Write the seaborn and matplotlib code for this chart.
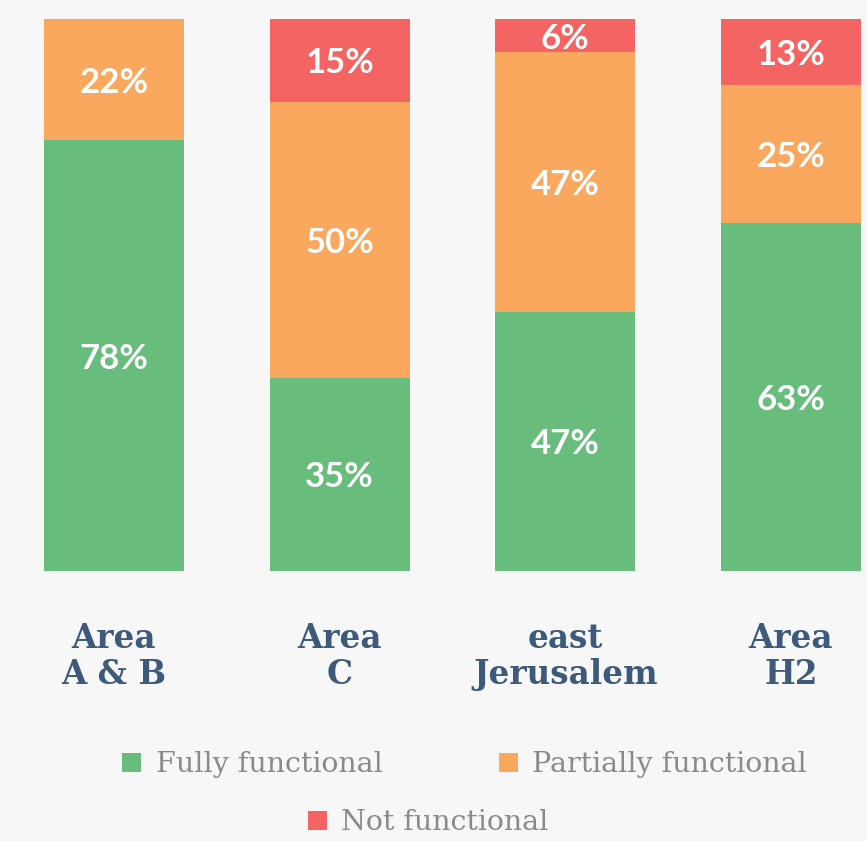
import matplotlib
matplotlib.use('Agg')
import matplotlib.pyplot as plt
from matplotlib.patches import Patch
import numpy as np
import pandas as pd
import seaborn as sns

areas = ['Area\nA & B', 'Area\nC', 'east\nJerusalem', 'Area\nH2']
fully = [78, 35, 47, 63]
partially = [22, 50, 47, 25]
not_func = [0, 15, 6, 13]
series_names = ['Fully functional', 'Partially functional', 'Not functional']

green = '#68bc7c'
orange = '#faa85e'
red = '#f36463'
bg = '#f7f7f7'

sns.set_theme(style='white')
plt.rcParams['font.family'] = ['DejaVu Sans']

fig = plt.figure(figsize=(8.67, 8.41), dpi=100, facecolor=bg)
ax = fig.add_axes([0, 270 / 841, 1, 552 / 841])
ax.set_facecolor(bg)

df = pd.DataFrame({'area': areas, 'fully': fully,
                   'partially': partially, 'not': not_func})
df['top2'] = df['fully'] + df['partially']
df['top3'] = df['top2'] + df['not']

# layered cumulative bars give the stacked look
bar_kw = dict(saturation=1, width=0.62, linewidth=0, edgecolor='none', ax=ax)
sns.barplot(data=df, x='area', y='top3', color=red, **bar_kw)
sns.barplot(data=df, x='area', y='top2', color=orange, **bar_kw)
sns.barplot(data=df, x='area', y='fully', color=green, **bar_kw)

ax.set_ylim(0, 100)
ax.set_xlim(-0.505, 3.337)
for s in ax.spines.values():
    s.set_visible(False)
ax.set_yticks([])
ax.set_xlabel('')
ax.set_ylabel('')
ax.tick_params(axis='x', length=0, pad=37)
for lab in ax.get_xticklabels():
    lab.set_fontfamily('DejaVu Serif')
    lab.set_fontweight('bold')
    lab.set_fontsize(23.5)
    lab.set_color('#3d5a7a')
    lab.set_linespacing(1.1)

def put(i, lo, val):
    if val <= 0:
        return
    mid = (lo + min(lo + val, 100)) / 2
    ax.text(i, mid, '{}%'.format(val), ha='center', va='center_baseline',
            color='white', fontsize=25, fontweight='bold', family='Lato')

for i in range(len(areas)):
    put(i, 0, fully[i])
    put(i, fully[i], partially[i])
    put(i, fully[i] + partially[i], not_func[i])

cols = [green, orange, red]
handles = [Patch(facecolor=c, edgecolor='none') for c in cols]
leg_kw = dict(frameon=False, handlelength=0.67, handleheight=0.67,
              handletextpad=0.5, prop={'family': 'DejaVu Serif', 'size': 20.5},
              labelcolor='#8a8a8a', borderpad=0)
leg1 = fig.legend(handles[:2], series_names[:2], loc='center',
                  bbox_to_anchor=(0.536, 1 - 765 / 841), ncol=2, columnspacing=4.1, **leg_kw)
leg2 = fig.legend(handles[2:], series_names[2:], loc='center',
                  bbox_to_anchor=(0.494, 1 - 823 / 841), **leg_kw)

fig.savefig('out.png', dpi=100, facecolor=bg)
